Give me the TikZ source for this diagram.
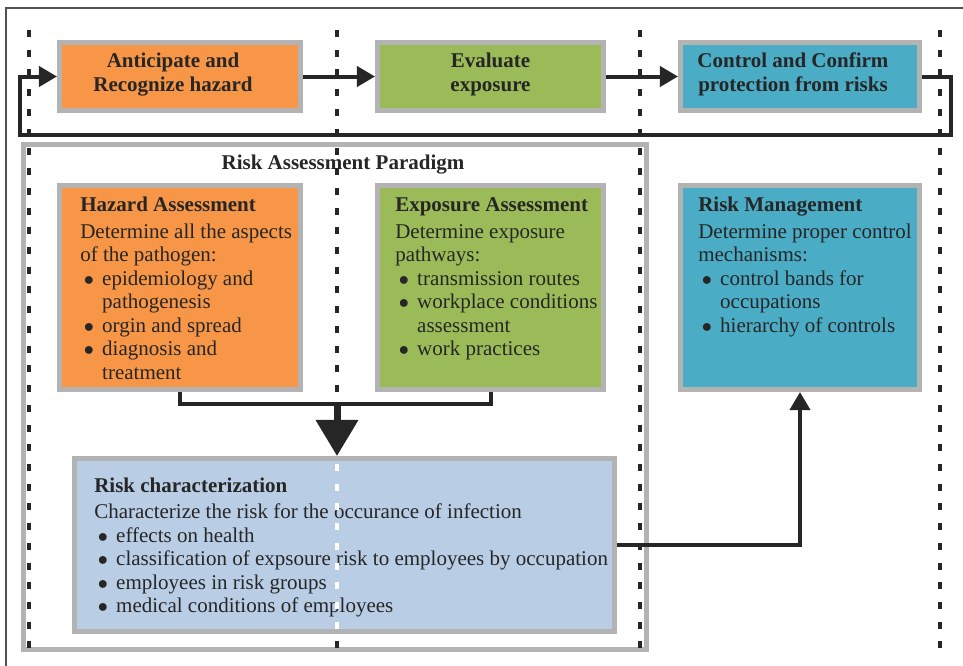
\documentclass[tikz,border=0pt]{standalone}
\usepackage{fontspec}
\setmainfont{Liberation Serif}
\usetikzlibrary{arrows.meta,positioning}
\usepackage{xcolor}
\definecolor{ink}{HTML}{262626}
\definecolor{rimgray}{HTML}{B3B3B3}
\definecolor{hazorange}{HTML}{F79646}
\definecolor{expgreen}{HTML}{9BBB59}
\definecolor{ctrlblue}{HTML}{4BACC6}
\definecolor{charblue}{HTML}{B9CDE5}
\newcommand{\bul}{\makebox[15.6pt][l]{\hspace*{2.6pt}$\bullet$}}
\newcommand{\ind}{\hspace*{15.6pt}}

\begin{document}
\begin{tikzpicture}[x=0.025cm, y=-0.025cm,
    box/.style={draw=rimgray, line width=0.125cm},
    txt/.style={text=ink, inner sep=0pt, align=left, anchor=base west,
      font=\fontsize{14.94}{16.7}\selectfont},
    headtxt/.style={text=ink, inner sep=0pt, align=center,
      font=\fontsize{14.94}{16.64}\selectfont\bfseries},
    conn/.style={draw=ink, line width=0.1cm, -{Triangle[length=0.45cm,width=0.5cm]}},
    guide/.style={draw=ink, line width=0.09cm, dash pattern=on 0.175cm off 0.318cm}]
    \useasboundingbox (0,0) rectangle (963,666);
    \draw [ink!80, line width=0.04cm] (6,8) rectangle (990,700);
    % paradigm frame
    \node [box, fill=white, minimum width=15.575cm, minimum height=12.625cm] (paradigm) at (335,397) {};
    \node [headtxt, anchor=base] (paradigmtitle) at (343,169.3) {Risk Assessment Paradigm};
    % dotted guides
    \foreach \gx in {29,337,640,940}
      \draw [guide] (\gx,30) -- (\gx,649);
    % top row
    \node [box, fill=hazorange, minimum width=6.025cm, minimum height=1.7cm] (anticip) at (180,76.5) {};
    \node [box, fill=expgreen, minimum width=5.65cm, minimum height=1.7cm] (evaluate) at (490.5,76.5) {};
    \node [box, fill=ctrlblue, minimum width=5.975cm, minimum height=1.7cm] (control) at (800,76.5) {};
    \node [headtxt] (anticiptxt) at (173,74.5) {Anticipate and\\Recognize hazard};
    \node [headtxt] (evaluatetxt) at (490.5,74.5) {Evaluate\\exposure};
    \node [headtxt] (controltxt) at (793,74.5) {Control and Confirm\\protection from risks};
    % assessment boxes (text nodes sit on their last baseline)
    \node [box, fill=hazorange, minimum width=6.025cm, minimum height=5.1cm] (hazard) at (180,287.5) {};
    \node [box, fill=expgreen, minimum width=5.65cm, minimum height=5.1cm] (exposure) at (490.5,287.5) {};
    \node [box, fill=ctrlblue, minimum width=5.975cm, minimum height=5.1cm] (riskmgmt) at (800,287.5) {};
    \node [box, fill=charblue, minimum width=13.5cm, minimum height=4.325cm] (riskchar) at (344.5,545) {};
    \node [txt] (hazardtxt) at (80,379) {\textbf{Hazard Assessment}\\[1.9pt]
      Determine all the aspects\\ of the pathogen:\\ \bul epidemiology and\\ \ind pathogenesis\\
      \bul orgin and spread\\ \bul diagnosis and\\ \ind treatment};
    \node [txt] (exposuretxt) at (395,355.5) {\textbf{Exposure Assessment}\\[1.9pt]
      Determine exposure\\ pathways:\\ \bul transmission routes\\ \bul workplace conditions\\
      \ind assessment\\ \bul work practices};
    \node [txt] (riskmgmttxt) at (698,332) {\textbf{Risk Management}\\[1.9pt]
      Determine proper control\\ mechanisms:\\ \bul control bands for\\ \ind occupations\\
      \bul hierarchy of controls};
    \node [txt] (riskchartxt) at (94,612.5) {\textbf{Risk characterization}\\[1.9pt]
      Characterize the risk for the occurance of infection\\ \bul effects on health\\
      \bul classification of expsoure risk to employees by occupation\\
      \bul employees in risk groups\\ \bul medical conditions of employees};
    % guide seen through the characterization box
    \begin{scope}
      \clip (riskchar.north west) rectangle (riskchar.south east);
      \draw [guide, draw=white] (337,30) -- (337,649);
    \end{scope}
    % connectors
    \draw [conn] (anticip) -- (evaluate);
    \draw [conn] (evaluate) -- (control);
    \coordinate (loopR) at (951,135);
    \coordinate (loopL) at (20,135);
    \draw [conn] (control.east) -| (loopR) -- (loopL) |- (anticip.west);
    \coordinate (merge) at (337,404);
    \draw [ink, line width=0.1cm] (hazard.south) |- (merge) -| (exposure.south);
    \draw [ink, line width=0.175cm, -{Triangle[length=0.9cm,width=1.025cm]}] (merge) -- (merge |- riskchar.north);
    \draw [conn] (riskchar.east) -| (riskmgmt.south);
  \end{tikzpicture}
\end{document}
